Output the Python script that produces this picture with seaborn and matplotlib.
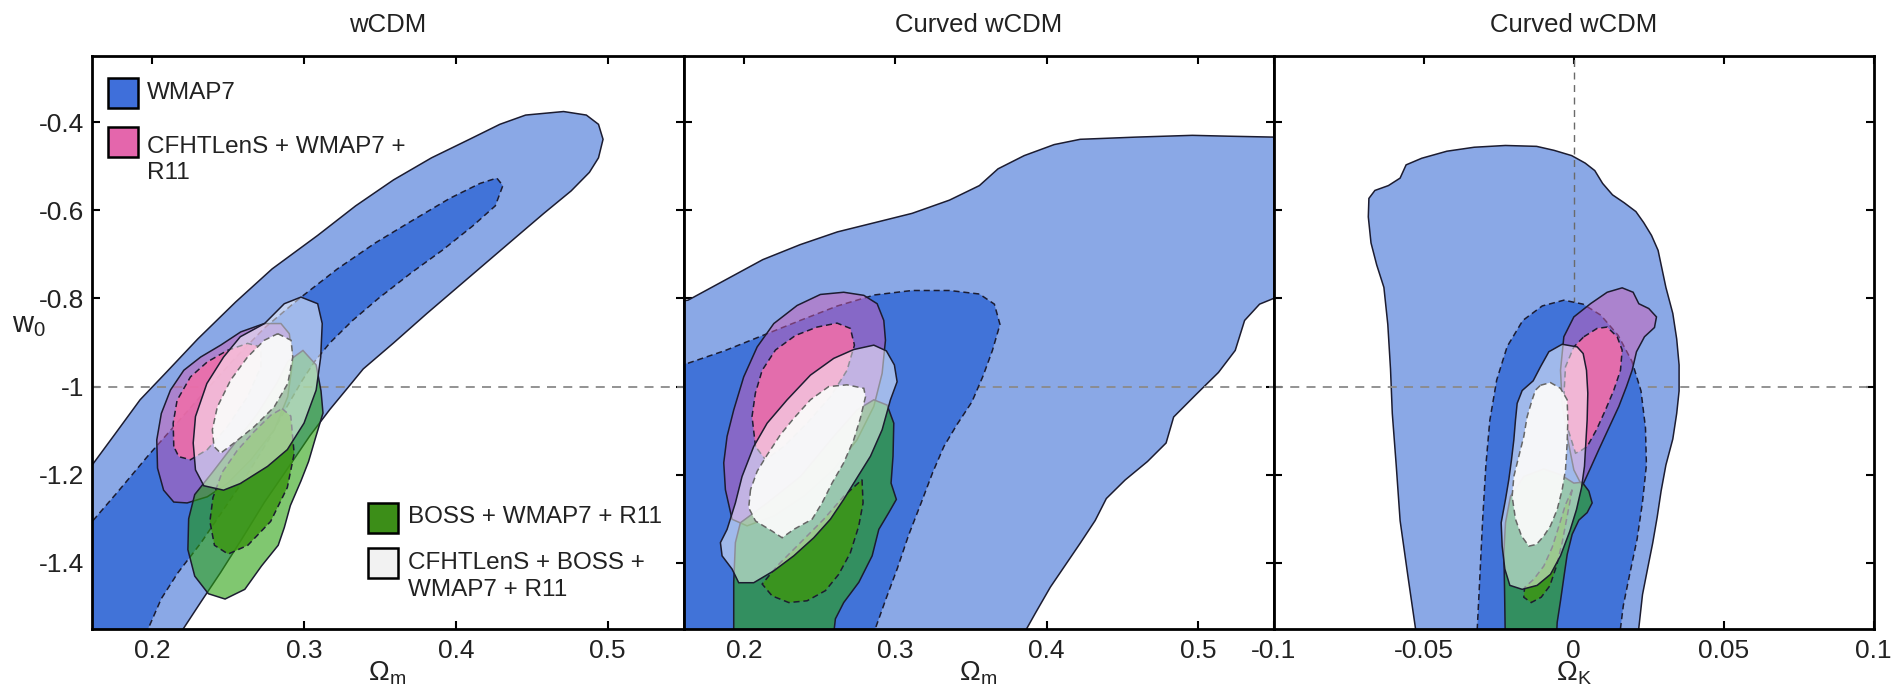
import matplotlib
matplotlib.use("Agg")
import matplotlib.pyplot as plt
from matplotlib.patches import Rectangle
from matplotlib.colors import to_rgba
import seaborn as sns

# ---------------- axes / text data ----------------
PANEL_TITLES = ["wCDM", "Curved wCDM", "Curved wCDM"]
X_LABELS = [r"$\mathregular{\Omega_m}$", r"$\mathregular{\Omega_m}$", r"$\mathregular{\Omega_K}$"]
Y_LABEL = r"$\mathregular{w_0}$"
X_LIMS = [(0.16, 0.55), (0.16, 0.55), (-0.1, 0.1)]
Y_LIM = (-1.55, -0.25)
X_TICKS = [[0.2, 0.3, 0.4, 0.5], [0.2, 0.3, 0.4, 0.5], [-0.1, -0.05, 0.0, 0.05, 0.1]]
X_TICK_LABELS = [["0.2", "0.3", "0.4", "0.5"], ["0.2", "0.3", "0.4", "0.5"],
                 ["-0.1", "-0.05", "0", "0.05", "0.1"]]
Y_TICKS = [-1.4, -1.2, -1.0, -0.8, -0.6, -0.4]
Y_TICK_LABELS = ["-1.4", "-1.2", "-1", "-0.8", "-0.6", "-0.4"]
W_REF = -1.0
OMK_REF = 0.0
LEGEND_LABELS = ["WMAP7", "CFHTLenS + WMAP7 +\nR11", "BOSS + WMAP7 + R11",
                 "CFHTLenS + BOSS +\nWMAP7 + R11"]

# ---------------- contour data: panel 1 (wCDM, Om-w0) ----------------
P1_WMAP7_OUT_X = [0.150, 0.160, 0.175, 0.192, 0.210, 0.230, 0.255, 0.279, 0.309, 0.334, 0.359, 0.384, 0.409,
                  0.429, 0.446, 0.471, 0.486, 0.494, 0.497, 0.494, 0.488, 0.476, 0.458, 0.441, 0.421, 0.401,
                  0.381, 0.359, 0.339, 0.329, 0.317, 0.304, 0.289, 0.274, 0.259, 0.245, 0.232, 0.220, 0.216, 0.150]
P1_WMAP7_OUT_Y = [-1.23, -1.180, -1.110, -1.030, -0.965, -0.892, -0.808, -0.733, -0.657, -0.590, -0.531, -0.481,
                  -0.439, -0.405, -0.384, -0.376, -0.384, -0.405, -0.439, -0.481, -0.514, -0.556, -0.607, -0.657,
                  -0.716, -0.775, -0.834, -0.901, -0.960, -1.002, -1.052, -1.111, -1.187, -1.262, -1.346, -1.422,
                  -1.489, -1.552, -1.60, -1.60]
P1_WMAP7_IN_X = [0.150, 0.160, 0.177, 0.197, 0.217, 0.235, 0.255, 0.274, 0.297, 0.322, 0.347, 0.371, 0.396, 0.416,
                 0.427, 0.431, 0.426, 0.411, 0.391, 0.371, 0.349, 0.332, 0.317, 0.307, 0.299, 0.289, 0.277, 0.262,
                 0.247, 0.232, 0.217, 0.206, 0.197, 0.193, 0.150]
P1_WMAP7_IN_Y = [-1.36, -1.308, -1.240, -1.158, -1.080, -1.010, -0.934, -0.867, -0.800, -0.733, -0.674, -0.624,
                 -0.573, -0.539, -0.527, -0.544, -0.590, -0.636, -0.691, -0.741, -0.800, -0.850, -0.901, -0.943,
                 -0.985, -1.044, -1.119, -1.203, -1.279, -1.355, -1.422, -1.481, -1.552, -1.60, -1.60]
P1_CFHT_OUT_X = [0.2738, 0.2583, 0.2451, 0.2319, 0.2208, 0.2120, 0.2060, 0.2030, 0.2035, 0.2075, 0.2142, 0.2230,
                 0.2363, 0.2495, 0.2650, 0.2804, 0.2893, 0.2926, 0.2903, 0.2848]
P1_CFHT_OUT_Y = [-0.857, -0.876, -0.906, -0.933, -0.963, -1.008, -1.061, -1.121, -1.185, -1.235, -1.262, -1.264,
                 -1.250, -1.220, -1.166, -1.098, -1.023, -0.940, -0.880, -0.857]
P1_CFHT_IN_X = [0.2142, 0.2138, 0.2164, 0.2252, 0.2363, 0.2495, 0.2628, 0.2716, 0.2716, 0.2628, 0.2495, 0.2363,
                0.2252, 0.2175]
P1_CFHT_IN_Y = [-1.136, -1.083, -1.031, -0.978, -0.944, -0.918, -0.902, -0.910, -0.955, -1.023, -1.091, -1.143,
                -1.166, -1.159]
P1_BOSS_OUT_X = [0.2993, 0.3080, 0.3112, 0.3125, 0.3076, 0.3030, 0.2980, 0.2910, 0.2870, 0.2830, 0.2720, 0.2610,
                 0.2480, 0.2370, 0.2280, 0.2235, 0.2240, 0.2280, 0.2396, 0.2545, 0.2694, 0.2819, 0.2893]
P1_BOSS_OUT_Y = [-0.918, -0.951, -1.010, -1.060, -1.116, -1.170, -1.214, -1.270, -1.320, -1.360, -1.407, -1.460,
                 -1.482, -1.470, -1.430, -1.370, -1.300, -1.245, -1.195, -1.128, -1.061, -0.993, -0.943]
P1_BOSS_IN_X = [0.2856, 0.2913, 0.2935, 0.2890, 0.2780, 0.2630, 0.2500, 0.2410, 0.2380, 0.2400, 0.2460, 0.2560,
                0.2669, 0.2781]
P1_BOSS_IN_Y = [-1.050, -1.067, -1.152, -1.229, -1.306, -1.360, -1.380, -1.360, -1.306, -1.252, -1.195, -1.145,
                -1.103, -1.065]
P1_ALL_OUT_X = [0.2285, 0.234, 0.247, 0.258, 0.276, 0.289, 0.300, 0.308, 0.311, 0.312, 0.309, 0.298, 0.287, 0.274,
                0.258, 0.247, 0.236, 0.2285, 0.227]
P1_ALL_OUT_Y = [-1.189, -1.225, -1.235, -1.220, -1.181, -1.143, -1.083, -1.008, -0.933, -0.857, -0.812, -0.797,
                -0.812, -0.857, -0.887, -0.933, -0.993, -1.068, -1.128]
P1_ALL_IN_X = [0.2827, 0.2915, 0.2926, 0.2893, 0.2804, 0.2672, 0.2539, 0.2451, 0.2407, 0.2396, 0.2429, 0.2517,
               0.2628, 0.2738]
P1_ALL_IN_Y = [-0.880, -0.895, -0.933, -0.993, -1.046, -1.091, -1.128, -1.151, -1.136, -1.098, -1.046, -0.985,
               -0.933, -0.895]

# ---------------- panel 2 (curved wCDM, Om-w0) ----------------
P2_WMAP7_OUT_X = [0.150, 0.163, 0.1877, 0.2124, 0.2371, 0.2618, 0.2865, 0.3111, 0.3358, 0.3556, 0.3679, 0.3852,
                  0.4050, 0.4222, 0.4593, 0.4963, 0.5210, 0.5501, 0.560, 0.560, 0.5501, 0.5408, 0.5309, 0.5247,
                  0.5136, 0.4988, 0.4840, 0.4790, 0.4667, 0.4519, 0.4395, 0.4321, 0.4223, 0.4124, 0.4025, 0.3926,
                  0.3864, 0.3830, 0.150]
P2_WMAP7_OUT_Y = [-0.81, -0.804, -0.758, -0.712, -0.678, -0.649, -0.628, -0.607, -0.577, -0.544, -0.506, -0.476,
                  -0.451, -0.439, -0.434, -0.430, -0.432, -0.434, -0.434, -0.79, -0.800, -0.813, -0.850, -0.918,
                  -0.968, -1.018, -1.069, -1.128, -1.170, -1.212, -1.254, -1.304, -1.355, -1.405, -1.455, -1.514,
                  -1.552, -1.60, -1.60]
P2_WMAP7_IN_X = [0.150, 0.163, 0.1877, 0.2124, 0.2371, 0.2618, 0.2865, 0.3111, 0.3358, 0.3556, 0.3655, 0.3692,
                 0.3642, 0.3580, 0.3506, 0.3408, 0.3321, 0.3247, 0.3173, 0.3087, 0.3013, 0.2939, 0.2865, 0.2840,
                 0.150]
P2_WMAP7_IN_Y = [-0.955, -0.947, -0.918, -0.884, -0.850, -0.817, -0.792, -0.782, -0.782, -0.790, -0.813, -0.859,
                 -0.918, -0.976, -1.035, -1.086, -1.136, -1.195, -1.262, -1.338, -1.413, -1.481, -1.552, -1.60,
                 -1.60]
P2_CFHT_OUT_X = [0.1877, 0.1866, 0.1888, 0.1932, 0.1998, 0.2087, 0.2197, 0.2351, 0.2505, 0.2659, 0.2792, 0.2880,
                 0.2924, 0.2935, 0.2913, 0.2858, 0.2747, 0.2593, 0.2395, 0.2197, 0.2020, 0.1921]
P2_CFHT_OUT_Y = [-1.234, -1.173, -1.113, -1.053, -0.978, -0.910, -0.857, -0.816, -0.791, -0.786, -0.793, -0.812,
                 -0.850, -0.895, -0.970, -1.045, -1.121, -1.188, -1.249, -1.294, -1.316, -1.301]
P2_CFHT_IN_X = [0.2076, 0.2053, 0.2075, 0.2120, 0.2208, 0.2340, 0.2483, 0.2615, 0.2703, 0.2730, 0.2681, 0.2571,
                0.2417, 0.2263, 0.2142]
P2_CFHT_IN_Y = [-1.136, -1.068, -1.015, -0.963, -0.917, -0.884, -0.865, -0.856, -0.868, -0.906, -0.963, -1.023,
                -1.083, -1.136, -1.166]
P2_BOSS_OUT_X = [0.1932, 0.1932, 0.1943, 0.1976, 0.2153, 0.2373, 0.2593, 0.2747, 0.2858, 0.2946, 0.2990, 0.2985,
                 0.2972, 0.3007, 0.2957, 0.2891, 0.2847, 0.2759, 0.2659, 0.2604, 0.2580]
P2_BOSS_OUT_Y = [-1.60, -1.444, -1.354, -1.309, -1.264, -1.204, -1.113, -1.053, -1.030, -1.042, -1.083, -1.158,
                 -1.219, -1.256, -1.286, -1.324, -1.384, -1.444, -1.490, -1.527, -1.60]
P2_BOSS_IN_X = [0.2780, 0.2787, 0.2758, 0.2703, 0.2626, 0.2538, 0.2417, 0.2296, 0.2186, 0.2120, 0.2219, 0.2373,
                0.2527, 0.2659]
P2_BOSS_IN_Y = [-1.211, -1.264, -1.317, -1.377, -1.426, -1.463, -1.486, -1.490, -1.475, -1.448, -1.407, -1.354,
                -1.301, -1.249]
P2_ALL_OUT_X = [0.2064, 0.2153, 0.2285, 0.2439, 0.2593, 0.2725, 0.2858, 0.2941, 0.2994, 0.3012, 0.2968, 0.2913,
                0.2836, 0.2747, 0.2659, 0.2571, 0.2461, 0.2329, 0.2197, 0.2064, 0.1965, 0.1921, 0.1855, 0.1844,
                0.1888, 0.1943, 0.1987]
P2_ALL_OUT_Y = [-1.136, -1.083, -1.030, -0.974, -0.936, -0.916, -0.906, -0.919, -0.951, -0.989, -1.030, -1.098,
                -1.158, -1.207, -1.256, -1.301, -1.343, -1.384, -1.418, -1.445, -1.445, -1.414, -1.384, -1.354,
                -1.324, -1.264, -1.204]
P2_ALL_IN_X = [0.2043, 0.2031, 0.2076, 0.2186, 0.2252, 0.2329, 0.2450, 0.2516, 0.2582, 0.2659, 0.2725, 0.2769,
               0.2803, 0.2792, 0.2681, 0.2560, 0.2439, 0.2329, 0.2241, 0.2153, 0.2087]
P2_ALL_IN_Y = [-1.234, -1.275, -1.305, -1.328, -1.343, -1.324, -1.301, -1.264, -1.219, -1.173, -1.121, -1.072,
               -1.023, -1.004, -0.996, -1.000, -1.030, -1.072, -1.109, -1.155, -1.192]

# ---------------- panel 3 (curved wCDM, OmK-w0) ----------------
P3_WMAP7_OUT_X = [-0.0526, -0.0552, -0.0578, -0.0591, -0.0604, -0.0610, -0.0619, -0.0632, -0.0656, -0.0675,
                  -0.0684, -0.0682, -0.0662, -0.0617, -0.0578, -0.0558, -0.0506, -0.0422, -0.0331, -0.0227,
                  -0.0123, -0.0065, -0.0006, 0.0039, 0.0071, 0.0097, 0.0130, 0.0169, 0.0208, 0.0234, 0.0260,
                  0.0282, 0.0295, 0.0308, 0.0331, 0.0344, 0.0352, 0.0352, 0.0344, 0.0331, 0.0308, 0.0292, 0.0279,
                  0.0264, 0.0247, 0.0230, 0.0217, 0.0213, -0.0530]
P3_WMAP7_OUT_Y = [-1.552, -1.430, -1.304, -1.178, -1.061, -0.960, -0.859, -0.775, -0.724, -0.674, -0.615, -0.573,
                  -0.555, -0.544, -0.527, -0.497, -0.482, -0.466, -0.457, -0.453, -0.455, -0.464, -0.476, -0.493,
                  -0.510, -0.539, -0.565, -0.583, -0.603, -0.628, -0.657, -0.691, -0.733, -0.775, -0.834, -0.892,
                  -0.951, -1.010, -1.061, -1.119, -1.178, -1.237, -1.296, -1.355, -1.413, -1.472, -1.552, -1.60,
                  -1.60]
P3_WMAP7_IN_X = [-0.0321, -0.0312, -0.0303, -0.0292, -0.0279, -0.0256, -0.0221, -0.0169, -0.0104, -0.0032, 0.0032,
                 0.0091, 0.0149, 0.0195, 0.0225, 0.0240, 0.0243, 0.0230, 0.0212, 0.0186, 0.0166, 0.0156, 0.0152,
                 -0.0325]
P3_WMAP7_IN_Y = [-1.552, -1.430, -1.304, -1.178, -1.077, -0.985, -0.909, -0.850, -0.817, -0.804, -0.813, -0.838,
                 -0.884, -0.943, -1.010, -1.094, -1.178, -1.262, -1.346, -1.430, -1.497, -1.552, -1.60, -1.60]
P3_CFHT_OUT_X = [0.00289, 0.00011, -0.00211, -0.00378, -0.00433, -0.00322, 0.00011, 0.00566, 0.01122, 0.01622,
                 0.01988, 0.02177, 0.02510, 0.02766, 0.02699, 0.02366, 0.02099, 0.01955, 0.01766, 0.01511, 0.01177,
                 0.00844, 0.00566]
P3_CFHT_OUT_Y = [-1.226, -1.189, -1.113, -1.038, -0.963, -0.887, -0.842, -0.812, -0.786, -0.776, -0.786, -0.812,
                 -0.823, -0.842, -0.866, -0.887, -0.921, -0.963, -1.000, -1.045, -1.094, -1.143, -1.185]
P3_CFHT_IN_X = [0.00344, 0.00788, 0.01122, 0.01455, 0.01622, 0.01566, 0.01344, 0.01066, 0.00766, 0.00455, 0.00211,
                0.00067, -0.00211, -0.00322, -0.00267, 0.00011]
P3_CFHT_IN_Y = [-0.887, -0.868, -0.865, -0.887, -0.917, -0.963, -1.008, -1.053, -1.098, -1.136, -1.147, -1.151,
                -1.091, -1.023, -0.955, -0.910]
P3_BOSS_OUT_X = [-0.02267, -0.02300, -0.02322, -0.02267, -0.02100, -0.01656, -0.00989, -0.00433, 0.00011, 0.00289,
                 0.00511, 0.00622, 0.00455, 0.00178, -0.00044, -0.00211, -0.00322, -0.00433, -0.00544, -0.00590]
P3_BOSS_OUT_Y = [-1.60, -1.452, -1.377, -1.309, -1.249, -1.204, -1.187, -1.200, -1.219, -1.217, -1.237, -1.264,
                 -1.286, -1.303, -1.335, -1.381, -1.433, -1.486, -1.535, -1.60]
P3_BOSS_IN_X = [-0.00044, -0.00211, -0.00378, -0.00567, -0.00789, -0.01078, -0.01411, -0.01656, -0.01633, -0.01322,
                -0.00989, -0.00711, -0.00489, -0.00267]
P3_BOSS_IN_Y = [-1.234, -1.294, -1.354, -1.407, -1.452, -1.478, -1.490, -1.478, -1.456, -1.437, -1.407, -1.365,
                -1.317, -1.268]
P3_ALL_OUT_X = [0.00122, -0.00378, -0.00822, -0.01100, -0.01345, -0.01711, -0.01878, -0.01934, -0.01989, -0.02067,
                -0.02156, -0.02267, -0.02411, -0.02378, -0.02289, -0.02122, -0.01711, -0.01211, -0.00767, -0.00433,
                -0.00122, 0.00100, 0.00266, 0.00366, 0.00411, 0.00455, 0.00477, 0.00433, 0.00322]
P3_ALL_OUT_Y = [-0.910, -0.904, -0.921, -0.955, -0.987, -1.009, -1.038, -1.076, -1.121, -1.166, -1.211, -1.256,
                -1.309, -1.362, -1.414, -1.451, -1.460, -1.451, -1.426, -1.384, -1.328, -1.279, -1.230, -1.181,
                -1.128, -1.076, -1.015, -0.963, -0.925]
P3_ALL_IN_X = [-0.01100, -0.00767, -0.00433, -0.00211, -0.00189, -0.00211, -0.00267, -0.00378, -0.00544, -0.00767,
               -0.00989, -0.01233, -0.01489, -0.01733, -0.01934, -0.02045, -0.01989, -0.01822, -0.01656, -0.01545,
               -0.01378, -0.01267]
P3_ALL_IN_Y = [-0.997, -0.991, -1.004, -1.030, -1.076, -1.128, -1.189, -1.234, -1.279, -1.316, -1.339, -1.358,
               -1.362, -1.339, -1.301, -1.249, -1.204, -1.158, -1.113, -1.068, -1.030, -1.008]

# ---------------- styles ----------------
EDGE = "#1c1c30"
DASH = (0, (4, 2.5))
STYLE = {
    "WMAP7_OUT": dict(face="#8aa8e6", alpha=1.0, edge=EDGE, ls="-", z=1.0),
    "WMAP7_IN": dict(face="#4173d8", alpha=1.0, edge=EDGE, ls=DASH, z=2.0),
    "CFHT_OUT": dict(face="#cc5fb8", alpha=0.5, edge=EDGE, ls="-", z=3.0),
    "CFHT_IN": dict(face="#ee6eaa", alpha=0.9, edge=EDGE, ls=DASH, z=4.0),
    "BOSS_OUT": dict(face="#2ba311", alpha=0.6, edge=EDGE, ls="-", z=5.0),
    "BOSS_IN": dict(face="#3c9614", alpha=0.85, edge=EDGE, ls=DASH, z=6.0),
    "ALL_OUT": dict(face="#ffffff", alpha=0.5, edge=EDGE, ls="-", z=7.0),
    "ALL_IN": dict(face="#fafafa", alpha=0.95, edge="#666666", ls=DASH, z=8.0),
}
LEGEND_FACES = ["#3f6fda", "#e466ac", "#3c8e18", "#f2f2f2"]

PANELS = [
    {"WMAP7_OUT": (P1_WMAP7_OUT_X, P1_WMAP7_OUT_Y), "WMAP7_IN": (P1_WMAP7_IN_X, P1_WMAP7_IN_Y),
     "CFHT_OUT": (P1_CFHT_OUT_X, P1_CFHT_OUT_Y), "CFHT_IN": (P1_CFHT_IN_X, P1_CFHT_IN_Y),
     "BOSS_OUT": (P1_BOSS_OUT_X, P1_BOSS_OUT_Y), "BOSS_IN": (P1_BOSS_IN_X, P1_BOSS_IN_Y),
     "ALL_OUT": (P1_ALL_OUT_X, P1_ALL_OUT_Y), "ALL_IN": (P1_ALL_IN_X, P1_ALL_IN_Y)},
    {"WMAP7_OUT": (P2_WMAP7_OUT_X, P2_WMAP7_OUT_Y), "WMAP7_IN": (P2_WMAP7_IN_X, P2_WMAP7_IN_Y),
     "CFHT_OUT": (P2_CFHT_OUT_X, P2_CFHT_OUT_Y), "CFHT_IN": (P2_CFHT_IN_X, P2_CFHT_IN_Y),
     "BOSS_OUT": (P2_BOSS_OUT_X, P2_BOSS_OUT_Y), "BOSS_IN": (P2_BOSS_IN_X, P2_BOSS_IN_Y),
     "ALL_OUT": (P2_ALL_OUT_X, P2_ALL_OUT_Y), "ALL_IN": (P2_ALL_IN_X, P2_ALL_IN_Y)},
    {"WMAP7_OUT": (P3_WMAP7_OUT_X, P3_WMAP7_OUT_Y), "WMAP7_IN": (P3_WMAP7_IN_X, P3_WMAP7_IN_Y),
     "CFHT_OUT": (P3_CFHT_OUT_X, P3_CFHT_OUT_Y), "CFHT_IN": (P3_CFHT_IN_X, P3_CFHT_IN_Y),
     "BOSS_OUT": (P3_BOSS_OUT_X, P3_BOSS_OUT_Y), "BOSS_IN": (P3_BOSS_IN_X, P3_BOSS_IN_Y),
     "ALL_OUT": (P3_ALL_OUT_X, P3_ALL_OUT_Y), "ALL_IN": (P3_ALL_IN_X, P3_ALL_IN_Y)},
]

# ---------------- theme ----------------
sns.set_theme(style="ticks")
plt.rcParams["font.family"] = ["Liberation Sans", "DejaVu Sans"]
plt.rcParams["axes.unicode_minus"] = False
FS = 18.5
FS_TICK = 19
FS_LEG = 17.5

W, H = 1893, 691
fig = plt.figure(figsize=(W / 100, H / 100), dpi=100)
fig.patch.set_facecolor("white")
AX_PX = [(91.5, 592), (683.5, 590), (1273.5, 600)]
TOP, BOT = 56, 629
axes = []
for (x0, w) in AX_PX:
    ax = fig.add_axes([x0 / W, (H - BOT) / H, w / W, (BOT - TOP) / H])
    axes.append(ax)

for i, ax in enumerate(axes):
    ax.set_facecolor("white")
    ax.set_xlim(*X_LIMS[i])
    ax.set_ylim(*Y_LIM)
    for key in ["WMAP7_OUT", "WMAP7_IN", "CFHT_OUT", "CFHT_IN", "BOSS_OUT", "BOSS_IN", "ALL_OUT", "ALL_IN"]:
        xs, ys = PANELS[i][key]
        st = STYLE[key]
        ax.fill(xs, ys, facecolor=to_rgba(st["face"], st["alpha"]), edgecolor=st["edge"],
                linewidth=1.1, linestyle=st["ls"], zorder=st["z"])
    # reference lines (above WMAP7 outer, below inner)
    ax.axhline(W_REF, color="#8a8a8a", lw=1.3, ls=(0, (5, 4)), zorder=1.5)
    if i == 2:
        ax.axvline(OMK_REF, color="#6a6a6a", lw=1.0, ls=(0, (5, 4)), zorder=1.5)

    ax.set_xticks(X_TICKS[i])
    ax.set_xticklabels(X_TICK_LABELS[i], fontsize=FS_TICK)
    ax.set_yticks(Y_TICKS)
    if i == 0:
        ax.set_yticklabels(Y_TICK_LABELS, fontsize=FS_TICK)
    else:
        ax.set_yticklabels([])
    ax.tick_params(direction="in", length=6, width=1.5, top=True, right=True, colors="black",
                   labelcolor="#222222")
    ax.tick_params(axis="x", pad=7)
    ax.tick_params(axis="y", pad=5)
    for sp in ax.spines.values():
        sp.set_linewidth(2.0)
        sp.set_color("black")
        sp.set_zorder(20)
    ax.text(0.5, 1.054, PANEL_TITLES[i], transform=ax.transAxes, ha="center", va="center",
            fontsize=FS, color="#222222")
    ax.set_xlabel(X_LABELS[i], fontsize=FS + 1.5, color="#222222", va="center")
    ax.xaxis.set_label_coords(0.5, -0.078)

axes[0].set_ylabel(Y_LABEL, fontsize=FS + 2.5, rotation=0, color="#222222", ha="center", va="center")
axes[0].yaxis.set_label_coords(-0.105, 0.53)

# ---------------- legend (panel 1) ----------------
ax0 = axes[0]
SQ_W, SQ_H = 30 / 592, 30 / 573
leg_pos = [(0.0279, 0.9092, 0.0932, 0.9349),
           (0.0279, 0.8237, 0.0932, 0.8185),
           (0.4679, 0.1675, 0.5346, 0.1955),
           (0.4679, 0.0890, 0.5346, 0.0916)]
for (sx, sy, tx, ty), lab, fc in zip(leg_pos, LEGEND_LABELS, LEGEND_FACES):
    ax0.add_patch(Rectangle((sx, sy), SQ_W, SQ_H, transform=ax0.transAxes, facecolor=fc,
                            edgecolor="black", linewidth=1.8, zorder=30))
    ax0.text(tx, ty, lab, transform=ax0.transAxes, ha="left", va="center", fontsize=FS_LEG,
             color="#222222", linespacing=1.28, zorder=30)

fig.savefig("out.png", dpi=100, facecolor="white")
